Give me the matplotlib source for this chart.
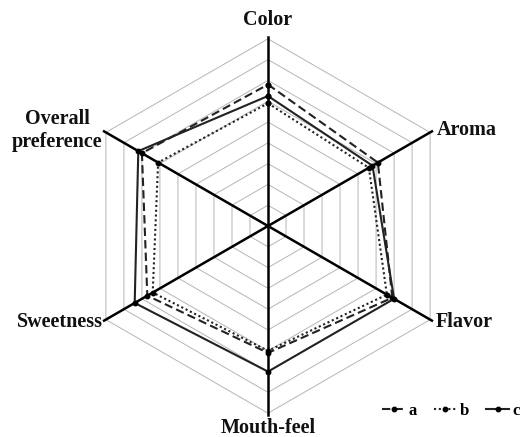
import matplotlib
matplotlib.use("Agg")
import matplotlib.pyplot as plt
import numpy as np

# sensory attributes, clockwise from the top
attributes = ["Color", "Aroma", "Flavor", "Mouth-feel", "Sweetness", "Overall\npreference"]
angles_deg = [90, 30, -30, -90, -150, 150]

series_a = [6.8, 6.1, 6.9, 6.1, 6.7, 7.0]   # dashed
series_b = [5.9, 5.6, 6.6, 6.0, 6.4, 6.1]   # dotted
series_c = [6.25, 5.8, 7.0, 7.0, 7.4, 7.2]  # solid
n_rings = 9

W, H = 527, 437
CX, CY = 268, 226          # centre in pixels (from top-left)
U = 20.8                   # pixels per scale unit

fig = plt.figure(figsize=(W / 100, H / 100), dpi=100)
ax = fig.add_axes([0, 0, 1, 1])
ax.set_xlim(-CX / U, (W - CX) / U)
ax.set_ylim(-(H - CY) / U, CY / U)
ax.axis("off")

th = np.deg2rad(angles_deg)
cos, sin = np.cos(th), np.sin(th)

# hexagonal grid rings
for r in range(1, n_rings + 1):
    xs = np.append(r * cos, r * cos[0])
    ys = np.append(r * sin, r * sin[0])
    ax.plot(xs, ys, color="#b5b5b5", lw=0.7, zorder=1)

# axis spokes
for c, s in zip(cos, sin):
    ax.plot([0, 9.1 * c], [0, 9.1 * s], color="black", lw=1.8, zorder=2)

def draw(vals, ls, label):
    v = np.array(vals)
    xs = np.append(v * cos, v[0] * cos[0])
    ys = np.append(v * sin, v[0] * sin[0])
    ax.plot(xs, ys, color="#222222", lw=1.5, ls=ls, marker="o", ms=3.2,
            mfc="black", mec="black", label=label, zorder=3)

draw(series_a, (0, (4, 2)), "a")
draw(series_b, (0, (1, 1.3)), "b")
draw(series_c, "-", "c")

font = dict(family="Liberation Serif", fontweight="bold", fontsize=14.5, color="#111111")
ax.text(0, (CY - 20) / U, attributes[0], ha="center", va="center", **font)
ax.text((437 - CX) / U, (CY - 130) / U, attributes[1], ha="left", va="center", **font)
ax.text((436 - CX) / U, (CY - 322) / U, attributes[2], ha="left", va="center", **font)
ax.text(0, (CY - 428) / U, attributes[3], ha="center", va="center", **font)
ax.text((103 - CX) / U, (CY - 322) / U, attributes[4], ha="right", va="center", **font)
ax.text((57 - CX) / U, (CY - 130) / U, attributes[5], ha="center", va="center",
        linespacing=1.2, **font)

fig.legend(loc="center left", bbox_to_anchor=(382 / W, 1 - 411 / H), ncol=3,
           frameon=False, handlelength=1.4, handletextpad=0.2, columnspacing=1.0,
           borderaxespad=0, borderpad=0,
           prop=dict(family="Liberation Serif", weight="bold", size=12))

fig.savefig("out.png", dpi=100, facecolor="white")
